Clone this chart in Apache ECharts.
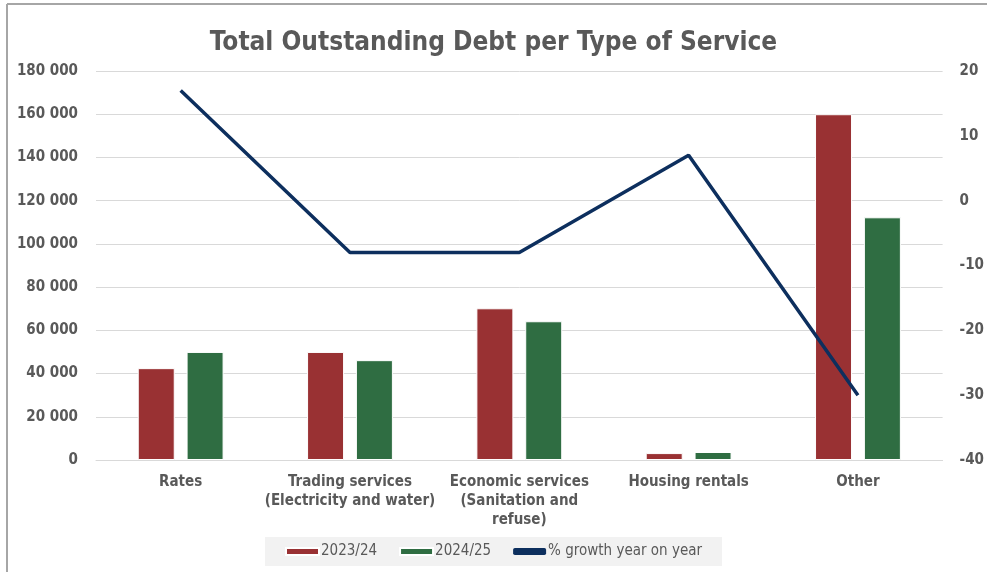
<!DOCTYPE html>
<html>
<head>
    <meta charset="UTF-8">
    <title>Total Outstanding Debt per Type of Service</title>
    <script src="https://cdn.jsdelivr.net/npm/echarts@6/dist/echarts.min.js"></script>
</head>
<body style="margin: 0; background: #fff;">
<div id="container" style="width: 987px; height: 572px;"></div>
<script type="text/javascript">
    // data
    var categories = ['Rates', 'Trading services\n(Electricity and water)', 'Economic services\n(Sanitation and\nrefuse)', 'Housing rentals', 'Other'];
    var debt2023 = [42500, 50000, 70200, 3200, 160000];
    var debt2024 = [50000, 46200, 64200, 3700, 112300];
    var growth = [17, -8, -8, 7, -30];

    var font = "'Liberation Sans Narrow', 'DejaVu Sans Condensed', sans-serif";
    var textColor = '#595959';

    var myChart = echarts.init(document.getElementById('container'));

    var option = {
        animation: false,
        title: {
            text: 'Total Outstanding Debt per Type of Service',
            left: 'center',
            top: 25,
            textStyle: {
                fontFamily: font,
                fontSize: 26,
                fontWeight: 'bold',
                color: textColor
            }
        },
        graphic: [
            {type: 'line', shape: {x1: 7, y1: 4, x2: 7, y2: 572}, style: {stroke: '#a6a6a6', lineWidth: 2}},
            {type: 'line', shape: {x1: 7, y1: 4, x2: 987, y2: 4}, style: {stroke: '#a6a6a6', lineWidth: 2}}
        ],
        legend: {
            bottom: 6,
            left: 'center',
            backgroundColor: '#f2f2f2',
            padding: [7, 20, 7, 20],
            itemWidth: 33,
            itemHeight: 7,
            itemGap: 22,
            textStyle: {
                fontFamily: font,
                fontSize: 15,
                color: textColor,
                padding: [0, 0, 0, -3]
            },
            data: [
                {name: '2023/24', icon: 'rect'},
                {name: '2024/25', icon: 'rect'},
                {name: '% growth year on year', icon: 'roundRect', itemStyle: {color: '#0d2f5e'}}
            ]
        },
        grid: {
            left: 96,
            right: 42,
            top: 71,
            bottom: 112
        },
        xAxis: [{
            type: 'category',
            data: categories,
            axisTick: {show: false},
            axisLine: {lineStyle: {color: '#d9d9d9', width: 1}},
            axisLabel: {
                fontFamily: font,
                fontSize: 15,
                fontWeight: 'bold',
                color: textColor,
                lineHeight: 19,
                margin: 13,
                interval: 0
            }
        }],
        yAxis: [{
            type: 'value',
            min: 0,
            max: 180000,
            interval: 20000,
            axisLine: {show: false},
            axisTick: {show: false},
            splitLine: {lineStyle: {color: '#d9d9d9', width: 1}},
            axisLabel: {
                fontFamily: font,
                fontSize: 15,
                fontWeight: 'bold',
                color: textColor,
                margin: 18,
                formatter: function (v) {
                    return String(v).replace(/\B(?=(\d{3})+(?!\d))/g, ' ');
                }
            }
        }, {
            type: 'value',
            min: -40,
            max: 20,
            interval: 10,
            axisLine: {show: false},
            axisTick: {show: false},
            splitLine: {show: false},
            axisLabel: {
                fontFamily: font,
                fontSize: 15,
                fontWeight: 'bold',
                color: textColor,
                margin: 17
            }
        }],
        series: [
            {
                name: '2023/24',
                type: 'bar',
                data: debt2023,
                barWidth: 37,
                barGap: '32%',
                itemStyle: {color: '#993133', borderColor: '#fff', borderWidth: 1}
            },
            {
                name: '2024/25',
                type: 'bar',
                data: debt2024,
                barWidth: 37,
                itemStyle: {color: '#2f6d42', borderColor: '#fff', borderWidth: 1}
            },
            {
                name: '% growth year on year',
                type: 'line',
                yAxisIndex: 1,
                data: growth,
                symbol: 'none',
                lineStyle: {color: '#0d2f5e', width: 3.5},
                itemStyle: {color: '#0d2f5e'},
                z: 5
            }
        ]
    };

    myChart.setOption(option);
</script>
</body>
</html>
